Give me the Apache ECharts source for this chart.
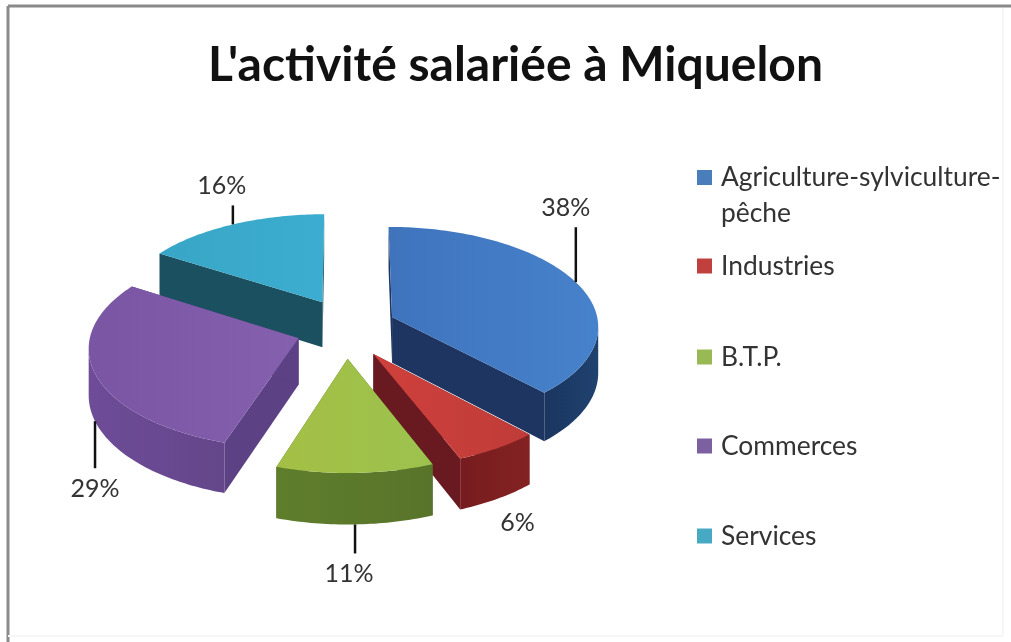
<!DOCTYPE html>
<html><head><meta charset="utf-8">
<style>html,body{margin:0;padding:0;background:#fff}#c{width:1011px;height:642px}</style>
<script src="https://cdn.jsdelivr.net/npm/echarts@6/dist/echarts.min.js"></script>
</head><body><div id="c"></div>
<script>
const titleText = "L'activité salariée à Miquelon";
const categories = ['Agriculture-sylviculture-pêche','Industries','B.T.P.','Commerces','Services'];
const shares = [38,6,11,29,16];

const legendText = {'Agriculture-sylviculture-pêche':'Agriculture-sylviculture-\npêche'};
const legendTops = [154,243,334,423,513];
const stack = [3,5,6,4,2];
const palette = [
 {legend:'#4a7ebb',top:['#3f74bd','#4682cb'],wall:['#1a3560','#20426f'],cut:'#1d3560'},
 {legend:'#c0403d',top:['#cf403c','#bf3c38'],wall:['#761c1e','#842222'],cut:'#681a20'},
 {legend:'#98b954',top:['#a4bf45','#9cc24e'],wall:['#5f7e2c','#58742a'],cut:'#4c6624'},
 {legend:'#7d60a0',top:['#7a55a3','#8460ae'],wall:['#6e4c98','#64468a'],cut:'#5c4184'},
 {legend:'#46aac5',top:['#38a6c6','#3cadd0'],wall:['#1d5a6c','#1a4f60'],cut:'#1b5060'}
];
// leader/label layout: anchor on rim ('top') or on the wall's lower edge ('wall')
const leaders = [
 {anchor:'top',len:-55,lx:-10,ly:-74},
 {anchor:'wall',len:0,lx:20,ly:24},
 {anchor:'wall',len:29,lx:-6,ly:49},
 {anchor:'wall',len:47,lx:0,ly:68},
 {anchor:'top',len:-19,lx:-11,ly:-38}
];
const view = {cx:346,cy:328,R:207,explode:50,explodeDepth:1.25,depth:46,tilt:0.48,persp:0.0004};

function project(u,v,z){
  const s = 1/(1-view.persp*v);
  return [view.cx+u*s, view.cy+view.tilt*v*s+z*s];
}
function renderSlice(i){
  return function(params,api){
    const rad = Math.PI/180;
    const before = shares.slice(0,i).reduce((a,b)=>a+b,0);
    const total = shares.reduce((a,b)=>a+b,0);
    const share = api.value(0);
    const a0 = before/total*360, a1 = (before+share)/total*360, mid=(a0+a1)/2;
    const ex = view.explode*Math.sin(mid*rad), ey = -view.explode*view.explodeDepth*Math.cos(mid*rad);
    const pt = (a,r,z)=>project(ex+r*Math.sin(a*rad), ey-r*Math.cos(a*rad), z);
    const rim=[], n=Math.max(6,Math.round(a1-a0));
    for(let k=0;k<=n;k++) rim.push(a0+(a1-a0)*k/n);
    const apex = pt(0,0,0), apexB = pt(0,0,view.depth);
    const c = palette[i];
    const lg = (cols,vertical)=> new echarts.graphic.LinearGradient(0,0,vertical?0:1,vertical?1:0,[{offset:0,color:cols[0]},{offset:1,color:cols[1]}]);
    const kids=[];
    const cut = a=>({type:'polygon',shape:{points:[apex,pt(a,view.R,0),pt(a,view.R,view.depth),apexB]},style:{fill:c.cut}});
    kids.push(cut(a0),cut(a1));
    const tops=[],bots=[];
    for(let k=0;k<rim.length-1;k++){
      const p=pt(rim[k],view.R,0), q=pt(rim[k+1],view.R,0);
      if(q[0]<p[0]){
        if(!tops.length){tops.push(p);bots.push(pt(rim[k],view.R,view.depth));}
        tops.push(q);bots.push(pt(rim[k+1],view.R,view.depth));
      }
    }
    if(tops.length) kids.push({type:'polygon',shape:{points:tops.concat(bots.reverse())},style:{fill:lg(c.wall,false)}});
    const face=[apex].concat(rim.map(a=>pt(a,view.R,0)));
    kids.push({type:'polygon',shape:{points:face},style:{fill:lg(c.top,false)}});
    const L = leaders[i];
    const an = pt(mid,view.R,L.anchor==='wall'?view.depth:0);
    if(L.len) kids.push({type:'line',shape:{x1:an[0],y1:an[1],x2:an[0],y2:an[1]+L.len},style:{stroke:'#111',lineWidth:2.5}});
    kids.push({type:'text',style:{x:an[0]+L.lx,y:an[1]+L.ly,text:share+'%',fill:'#333',font:'25px Lato',align:'center',verticalAlign:'middle'}});
    return {type:'group',children:kids};
  };
}
const series = categories.map((name,i)=>({
  type:'custom',name,coordinateSystem:'none',z:stack[i],silent:true,animation:false,
  itemStyle:{color:palette[i].legend},
  renderItem:renderSlice(i),data:[[shares[i]]]
}));
const legend = categories.map((name,i)=>({
  show:true,data:[name],orient:'vertical',left:692,top:legendTops[i],
  itemWidth:15,itemHeight:i===0?50:15,itemGap:0,selectedMode:false,
  icon:i===0?'path://M0 0H15V15H0Z M0 50L0.01 50L0 50Z':'rect',
  formatter:n=>legendText[n]||n,
  textStyle:{fontFamily:'Lato',fontSize:26.4,color:'#333',lineHeight:36,padding:[0,0,0,4]}
}));
const frame = [
 {type:'line',shape:{x1:8,y1:6,x2:8,y2:642},style:{stroke:'#8a8a8a',lineWidth:3}},
 {type:'line',shape:{x1:8,y1:6,x2:1011,y2:6},style:{stroke:'#8a8a8a',lineWidth:3}},
 {type:'line',shape:{x1:1003,y1:8,x2:1003,y2:636},style:{stroke:'#f6f6f6',lineWidth:2}},
 {type:'line',shape:{x1:8,y1:636,x2:1003,y2:636},style:{stroke:'#f6f6f6',lineWidth:2}}
];
const chart = echarts.init(document.getElementById('c'),null,{renderer:'canvas'});
chart.setOption({
  animation:false,backgroundColor:'#fff',
  title:{text:titleText,left:208,top:42,itemGap:0,textStyle:{fontFamily:'Lato',fontWeight:'bold',fontSize:48,color:'#111'},padding:0},
  legend,series,
  graphic:{elements:frame}
});
</script></body></html>
